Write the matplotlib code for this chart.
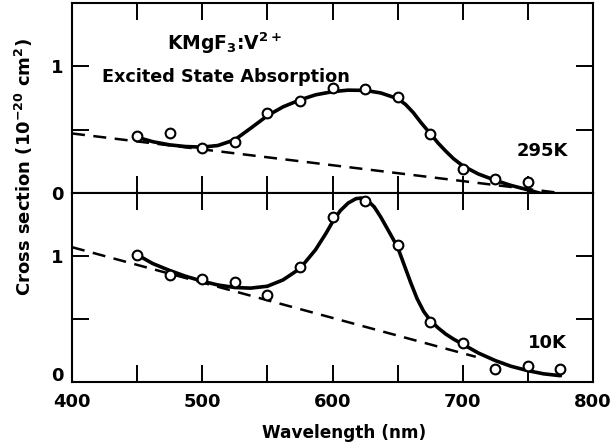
import matplotlib
matplotlib.use("Agg")
import matplotlib.pyplot as plt
from matplotlib.ticker import MultipleLocator
from matplotlib.transforms import ScaledTranslation

plt.rcParams['font.family'] = ['DejaVu Sans']
plt.rcParams['font.weight'] = 'bold'
plt.rcParams['mathtext.default'] = 'bf'

# ---- data ----
# 295 K measured points
pts_x_295 = [450, 475, 500, 525, 550, 575, 600, 625, 650, 675, 700, 725, 750, 775]
pts_y_295 = [0.45, 0.47, 0.355, 0.40, 0.63, 0.73, 0.83, 0.82, 0.76, 0.465, 0.19, 0.11, 0.087, -0.047]
# 295 K fitted curve
fit_x_295 = [450, 462, 475, 487, 500, 512, 525, 537, 550, 562, 575, 587, 600, 612,
             625, 637, 650, 656, 662, 668, 675, 681, 687, 693, 700, 712, 725, 737,
             750, 762, 775]
fit_y_295 = [0.44, 0.405, 0.38, 0.367, 0.362, 0.375, 0.42, 0.51, 0.61, 0.68, 0.735, 0.775,
             0.80, 0.812, 0.81, 0.79, 0.745, 0.70, 0.635, 0.555, 0.47, 0.395, 0.33, 0.27,
             0.215, 0.15, 0.10, 0.06, 0.025, -0.01, -0.045]
# 295 K background (dashed)
bg_x_295 = [400, 775]
bg_y_295 = [0.47, 0.0]

# 10 K measured points
pts_x_10 = [450, 475, 500, 525, 550, 575, 600, 625, 650, 675, 700, 725, 750, 775]
pts_y_10 = [1.01, 0.85, 0.82, 0.79, 0.69, 0.91, 1.31, 1.44, 1.09, 0.48, 0.31, 0.10, 0.127, 0.107]
# 10 K fitted curve
fit_x_10 = [450, 462, 475, 487, 500, 512, 525, 537, 550, 562, 575, 587, 595, 600, 606,
            612, 618, 622, 627, 632, 637, 643, 650, 655, 660, 665, 670, 675, 681, 687,
            693, 700, 712, 725, 737, 750, 762, 775]
fit_y_10 = [1.01, 0.94, 0.885, 0.84, 0.80, 0.77, 0.75, 0.745, 0.76, 0.81, 0.90, 1.05,
            1.18, 1.27, 1.36, 1.42, 1.455, 1.46, 1.44, 1.39, 1.31, 1.20, 1.07, 0.93,
            0.79, 0.66, 0.56, 0.49, 0.43, 0.38, 0.34, 0.30, 0.23, 0.17, 0.125, 0.09,
            0.065, 0.05]
# 10 K background (dashed)
bg_x_10 = [400, 710]
bg_y_10 = [1.07, 0.20]

x_major = [400, 500, 600, 700, 800]
y_ticks = [0, 0.5, 1]
y_ticklabels = ['0', '', '1']

W, H = 614, 446
fig = plt.figure(figsize=(W / 100, H / 100), dpi=100)
left, right = 72 / W, 593 / W
ax_top = fig.add_axes([left, 1 - 193 / H, right - left, (193 - 3) / H])
ax_bot = fig.add_axes([left, 1 - 382 / H, right - left, (382 - 193) / H])

for ax in (ax_top, ax_bot):
    ax.set_xlim(400, 800)
    ax.set_ylim(0, 1.5)
    ax.xaxis.set_major_locator(MultipleLocator(50))
    ax.set_yticks(y_ticks)
    ax.set_yticklabels(y_ticklabels)
    ax.tick_params(direction='in', length=12.5, width=1.4, top=True, right=True,
                   labelsize=13, pad=6)
    for s in ax.spines.values():
        s.set_linewidth(1.5)

ax_top.tick_params(labelbottom=False)
ax_bot.set_xticks(range(400, 801, 50))
ax_bot.set_xticklabels([str(v) if v in x_major else '' for v in range(400, 801, 50)])
ax_bot.tick_params(axis='x', pad=8)

# nudge the bottom "0" label slightly upward as in the reference
zero_tick = ax_bot.yaxis.get_major_ticks()[0]
zero_tick.label1.set_transform(zero_tick.label1.get_transform() +
                               ScaledTranslation(0, 6 / 72, fig.dpi_scale_trans))

dash = (0, (5.2, 3.4))
# top panel
ax_top.plot(bg_x_295, bg_y_295, color='black', lw=1.8, ls=dash, clip_on=False)
ax_top.plot(fit_x_295, fit_y_295, color='black', lw=2.6, clip_on=False,
            solid_capstyle='round', solid_joinstyle='round')
ax_top.plot(pts_x_295, pts_y_295, 'o', ms=7, mfc='white', mec='black', mew=1.5,
            clip_on=False, zorder=5)

# bottom panel
ax_bot.plot(bg_x_10, bg_y_10, color='black', lw=1.8, ls=dash)
ax_bot.plot(fit_x_10, fit_y_10, color='black', lw=2.6, clip_on=False,
            solid_capstyle='round', solid_joinstyle='round')
ax_bot.plot(pts_x_10, pts_y_10, 'o', ms=7, mfc='white', mec='black', mew=1.5,
            clip_on=False, zorder=5)

ax_top.text(473, 1.126, r'KMgF$_3$:V$^{2+}$', fontsize=13.5, fontweight='bold',
            ha='left', va='baseline')
ax_top.text(423, 0.874, 'Excited State Absorption', fontsize=12.7, fontweight='bold',
            ha='left', va='baseline')
ax_top.text(741, 0.29, '295K', fontsize=13, fontweight='bold', ha='left', va='baseline')
ax_bot.text(750, 0.27, '10K', fontsize=13, fontweight='bold', ha='left', va='baseline')

fig.text(344 / W, 1 - 433 / H, 'Wavelength (nm)', fontsize=12.2, fontweight='bold',
         ha='center', va='center')
fig.text(24 / W, 1 - 167 / H, r'Cross section (10$^{-20}$ cm$^2$)', fontsize=13,
         fontweight='bold', rotation=90, ha='center', va='center')

fig.savefig('out.png', dpi=100)
